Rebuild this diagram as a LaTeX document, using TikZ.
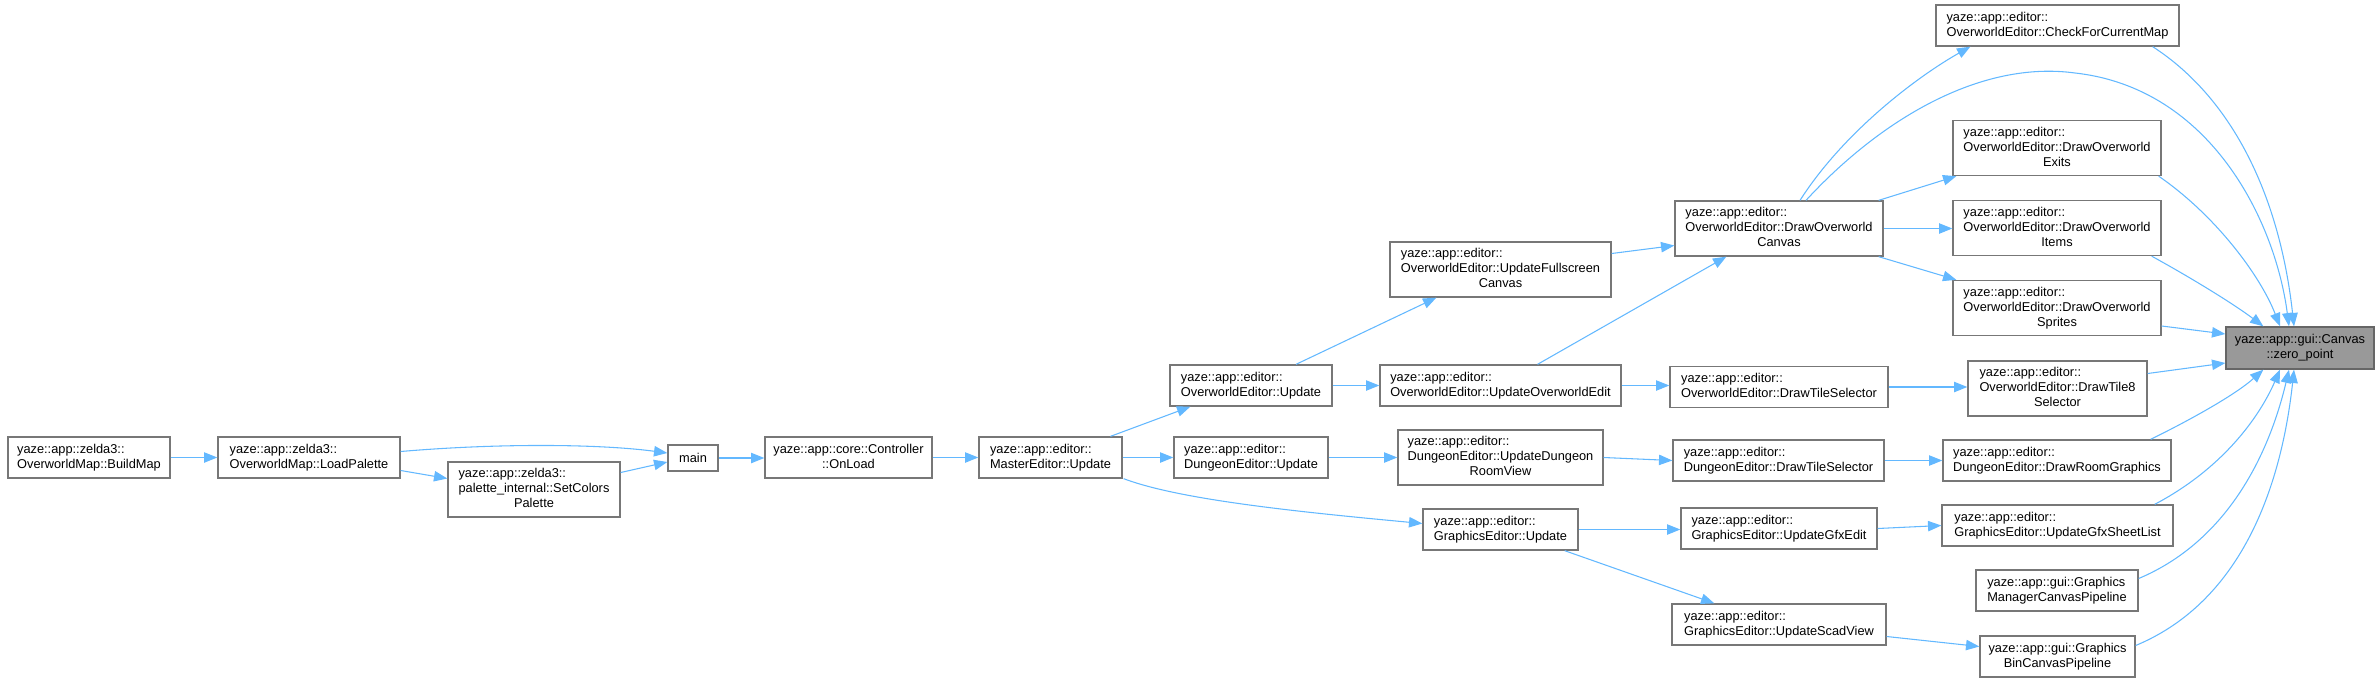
\documentclass[tikz,border=0pt]{standalone}
\usepackage{fontspec}
\setmainfont{Liberation Sans}
\usetikzlibrary{arrows.meta,calc}
\definecolor{edgec}{HTML}{63B8FF}
\definecolor{bord}{HTML}{777777}
\definecolor{zbord}{HTML}{666666}
\definecolor{zfill}{HTML}{999999}
\newcommand\twoln[2]{\begin{tabular}{@{}l@{}}#1\\\multicolumn{1}{@{}c@{}}{#2}\end{tabular}}
\newcommand\threeln[3]{\begin{tabular}{@{}l@{}}#1\\#2\\\multicolumn{1}{@{}c@{}}{#3}\end{tabular}}
\begin{document}
\begin{tikzpicture}[x=0.75pt,y=-0.75pt,
  box/.style={draw=bord, line width=1pt, fill=white, inner sep=0pt, text=black,
    font=\fontsize{9.6}{11.25}\selectfont},
  wh/.style 2 args={minimum width=#1*0.75pt, minimum height=#2*0.75pt},
  edge/.style={draw=edgec, line width=0.8pt, -{Triangle[length=10pt,width=7.8pt]}}]
\useasboundingbox (0,0) rectangle (2379,682);
% nodes
\node[box,wh={162}{41}] (buildmap) at (89,457.5) {\twoln{yaze::app::zelda3::}{OverworldMap::BuildMap}};
\node[box,wh={182}{41}] (loadpalette) at (309,457.5) {\twoln{yaze::app::zelda3::}{OverworldMap::LoadPalette}};
\node[box,wh={172}{55}] (setcolors) at (534,489.5) {\threeln{yaze::app::zelda3::}{palette\_internal::SetColors}{Palette}};
\node[box,wh={50}{26}] (main) at (693,458) {main};
\node[box,wh={167}{41}] (onload) at (848.5,457.5) {\twoln{yaze::app::core::Controller}{::OnLoad}};
\node[box,wh={143}{41}] (master) at (1050.5,457.5) {\twoln{yaze::app::editor::}{MasterEditor::Update}};
\node[box,wh={162}{41}] (owupdate) at (1251,385.5) {\twoln{yaze::app::editor::}{OverworldEditor::Update}};
\node[box,wh={154}{41}] (dungupdate) at (1251,457.5) {\twoln{yaze::app::editor::}{DungeonEditor::Update}};
\node[box,wh={221}{55}] (fullscreen) at (1500.5,269.5) {\threeln{yaze::app::editor::}{OverworldEditor::UpdateFullscreen}{Canvas}};
\node[box,wh={241}{41}] (oweditupd) at (1500.5,385.5) {\twoln{yaze::app::editor::}{OverworldEditor::UpdateOverworldEdit}};
\node[box,wh={205}{55}] (udrv) at (1500.5,457.5) {\threeln{yaze::app::editor::}{DungeonEditor::UpdateDungeon}{RoomView}};
\node[box,wh={155}{41}] (geupdate) at (1500.5,529.5) {\twoln{yaze::app::editor::}{GraphicsEditor::Update}};
\node[box,wh={208}{55}] (doc) at (1779,228.5) {\threeln{yaze::app::editor::}{OverworldEditor::DrawOverworld}{Canvas}};
\node[box,wh={218}{41}] (owdts) at (1779,387) {\twoln{yaze::app::editor::}{OverworldEditor::DrawTileSelector}};
\node[box,wh={211}{41}] (dungdts) at (1778.5,460.5) {\twoln{yaze::app::editor::}{DungeonEditor::DrawTileSelector}};
\node[box,wh={196}{41}] (gfxedit) at (1779,528.5) {\twoln{yaze::app::editor::}{GraphicsEditor::UpdateGfxEdit}};
\node[box,wh={214}{41}] (scadview) at (1779,624.5) {\twoln{yaze::app::editor::}{GraphicsEditor::UpdateScadView}};
\node[box,wh={243}{41}] (check) at (2057.5,25.5) {\twoln{yaze::app::editor::}{OverworldEditor::CheckForCurrentMap}};
\node[box,wh={208}{55}] (exits) at (2057,148) {\threeln{yaze::app::editor::}{OverworldEditor::DrawOverworld}{Exits}};
\node[box,wh={208}{55}] (items) at (2057,228) {\threeln{yaze::app::editor::}{OverworldEditor::DrawOverworld}{Items}};
\node[box,wh={208}{55}] (sprites) at (2057,308) {\threeln{yaze::app::editor::}{OverworldEditor::DrawOverworld}{Sprites}};
\node[box,wh={179}{55}] (tile8) at (2057.5,388.5) {\threeln{yaze::app::editor::}{OverworldEditor::DrawTile8}{Selector}};
\node[box,wh={228}{41}] (roomgfx) at (2057,460.5) {\twoln{yaze::app::editor::}{DungeonEditor::DrawRoomGraphics}};
\node[box,wh={231}{41}] (sheetlist) at (2057.5,525.5) {\twoln{yaze::app::editor::}{GraphicsEditor::UpdateGfxSheetList}};
\node[box,wh={162}{41}] (manager) at (2057,590.5) {\twoln{yaze::app::gui::Graphics}{ManagerCanvasPipeline}};
\node[box,wh={155}{41}] (bincanvas) at (2057.5,656.5) {\twoln{yaze::app::gui::Graphics}{BinCanvasPipeline}};
\node[box,wh={148}{42},fill=zfill,draw=zbord] (zero) at (2300,348) {\twoln{yaze::app::gui::Canvas}{::zero\_point}};
% edges
\draw[edge] (buildmap.east) -- (loadpalette.west);
\draw[edge] ($(loadpalette.east)+(0,-6)$) .. controls (500,443) and (600,444) .. ($(main.west)+(0,-5)$);
\draw[edge] ($(loadpalette.east)+(0,13)$) -- ($(setcolors.west)+(0,-11)$);
\draw[edge] ($(setcolors.east)+(0,-17)$) -- ($(main.west)+(0,4)$);
\draw[edge] (main.east) -- (main.east -| onload.west);
\draw[edge] (onload.east) -- (master.west);
\draw[edge] ($(master.north)+(60,0)$) -- ($(owupdate.south west)+(21,0)$);
\draw[edge] (master.east) -- (dungupdate.west);
\draw[edge] ($(master.south east)+(1,0)$) .. controls (1180,500) and (1300,512) .. ($(geupdate.west)+(0,-6)$);
\draw[edge] ($(owupdate.north)+(45,0)$) -- ($(fullscreen.south west)+(47,0)$);
\draw[edge] (owupdate.east) -- (oweditupd.west);
\draw[edge] ($(fullscreen.east)+(0,-16)$) -- ($(doc.west)+(0,17)$);
\draw[edge] ($(oweditupd.north)+(37,0)$) -- ($(doc.south west)+(52,0)$);
\draw[edge] (oweditupd.east) -- (oweditupd.east -| owdts.west);
\draw[edge] (dungupdate.east) -- (dungupdate.east -| udrv.west);
\draw[edge] (udrv.east) -- (dungdts.west);
\draw[edge] (geupdate.east) -- (geupdate.east -| gfxedit.west);
\draw[edge] ($(geupdate.south east)+(-14,0)$) -- ($(scadview.north west)+(43,0)$);
\draw[edge] ($(doc.north)+(21,0)$) .. controls (1845,130) and (1920,75) .. ($(check.south west)+(35,0)$);
\draw[edge] ($(doc.north)+(27,0)$) .. controls (1880,120) and (1980,60) .. (2075,73) .. controls (2210,88) and (2275,220) .. ($(zero.north)+(-11,0)$);
\draw[edge] ($(doc.north east)+(-5,0)$) -- ($(exits.south west)+(4,0)$);
\draw[edge] (doc.east) -- (doc.east -| items.west);
\draw[edge] ($(doc.south east)+(-5,0)$) -- ($(sprites.north west)+(4,0)$);
\draw[edge] (owdts.east) -- (owdts.east -| tile8.west);
\draw[edge] (dungdts.east) -- (roomgfx.west);
\draw[edge] (gfxedit.east) -- (sheetlist.west);
\draw[edge] ($(scadview.east)+(0,12)$) -- ($(bincanvas.west)+(0,-10)$);
\draw[edge] ($(check.south east)+(-27,0)$) .. controls (2235,100) and (2280,200) .. ($(zero.north)+(-6,0)$);
\draw[edge] ($(exits.south east)+(-3,0)$) .. controls (2215,215) and (2260,275) .. ($(zero.north)+(-20,0)$);
\draw[edge] ($(items.south east)+(-10,0)$) .. controls (2195,280) and (2235,305) .. ($(zero.north west)+(38,0)$);
\draw[edge] ($(sprites.east)+(0,18)$) -- ($(zero.west)+(0,-14)$);
\draw[edge] ($(tile8.east)+(0,-15)$) -- ($(zero.west)+(0,15)$);
\draw[edge] ($(roomgfx.north east)+(-21,0)$) .. controls (2190,420) and (2235,395) .. ($(zero.south west)+(38,0)$);
\draw[edge] ($(sheetlist.north east)+(-19,0)$) .. controls (2220,470) and (2258,420) .. ($(zero.south)+(-20,0)$);
\draw[edge] ($(manager.east)+(0,-12)$) .. controls (2230,540) and (2270,450) .. ($(zero.south)+(-11,0)$);
\draw[edge] ($(bincanvas.east)+(0,-11)$) .. controls (2245,600) and (2282,480) .. ($(zero.south)+(-6,0)$);
\end{tikzpicture}
\end{document}
